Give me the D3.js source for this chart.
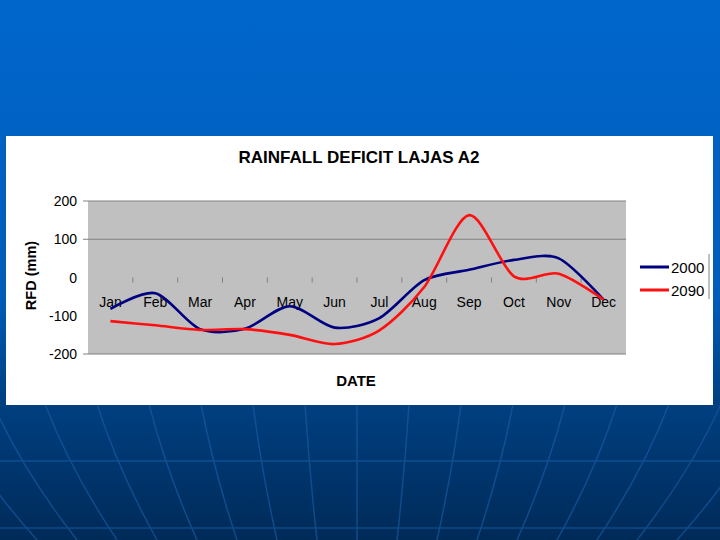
<!DOCTYPE html>
<meta charset="utf-8">
<head>
  <title>Rainfall Deficit Lajas A2</title>
</head>
<style>
    body { margin: 0; background: #0060c0; }
    svg text { font-family: Arial, "Liberation Sans", sans-serif; }
    .grid line { stroke: #808080; stroke-width: 1px; }
    .series { fill: none; stroke-width: 2.6px; stroke-linejoin: round; }
</style>
<body>
<svg id="chart" width="720" height="540"></svg>
<script src="https://cdn.jsdelivr.net/npm/d3@7"></script>
<script>
    // data
    var months = ["Jan","Feb","Mar","Apr","May","Jun","Jul","Aug","Sep","Oct","Nov","Dec"];
    var rfd2000 = [-82, -41, -135, -134, -75, -131, -106, -7, 20, 46, 50, -58];
    var rfd2090 = [-114, -125, -137, -135, -150, -174, -138, -25, 163, 3, 10, -58];
    var yTicks = [200, 100, 0, -100, -200];
    var seriesNames = ["2000", "2090"];
    var seriesColors = ["#000080", "#ff1010"];

    var svg = d3.select("#chart");
    var defs = svg.append("defs");

    // slide background
    var bg = defs.append("linearGradient").attr("id", "bg")
        .attr("x1", 0).attr("x2", 0).attr("y1", 0).attr("y2", 1);
    bg.append("stop").attr("offset", "0%").attr("stop-color", "#0066cc");
    bg.append("stop").attr("offset", "55%").attr("stop-color", "#005cb8");
    bg.append("stop").attr("offset", "75%").attr("stop-color", "#003f80");
    bg.append("stop").attr("offset", "100%").attr("stop-color", "#002a58");
    svg.append("rect").attr("width", 720).attr("height", 540).attr("fill", "url(#bg)");

    // perspective grid on the slide
    var deco = svg.append("g").attr("stroke", "#1a5fa8").attr("stroke-width", 1.5).attr("fill", "none").attr("opacity", 0.6);
    for (var k = -8; k <= 8; k++) {
        var xt = 357 + k * 52, xb = 357 + k * 40;
        deco.append("path").attr("d", "M" + xt + ",404 Q" + (xt + (xb - xt) * 0.35) + ",470 " + xb + ",540");
    }
    [461, 528].forEach(function(yy) {
        deco.append("line").attr("x1", 0).attr("x2", 720).attr("y1", yy).attr("y2", yy);
    });

    // white chart panel
    svg.append("rect").attr("x", 6).attr("y", 136).attr("width", 707).attr("height", 269).attr("fill", "#ffffff");

    var plotLeft = 88, plotRight = 626, plotTop = 201, plotBottom = 354;

    var x = d3.scaleBand().domain(months).range([plotLeft, plotRight]);
    var y = d3.scaleLinear().domain([-200, 200]).range([plotBottom, plotTop]);

    svg.append("rect").attr("x", plotLeft).attr("y", plotTop)
        .attr("width", plotRight - plotLeft).attr("height", plotBottom - plotTop).attr("fill", "#c0c0c0");

    svg.append("g").attr("class", "grid")
        .selectAll("line").data([200, 100, -200]).join("line")
        .attr("x1", plotLeft - 5).attr("x2", plotRight).attr("y1", d => y(d)).attr("y2", d => y(d));

    // y axis labels
    svg.append("g").selectAll("text").data(yTicks).join("text")
        .attr("x", 77).attr("y", d => y(d) + 5)
        .attr("text-anchor", "end").attr("font-size", 14).attr("fill", "#000")
        .text(d => d);

    // tick marks on the zero line between months
    svg.append("g").selectAll("line").data(months.slice(1)).join("line")
        .attr("x1", d => x(d)).attr("x2", d => x(d))
        .attr("y1", y(0)).attr("y2", y(0) + 5)
        .attr("stroke", "#808080").attr("stroke-width", 1);

    // month labels
    svg.append("g").selectAll("text").data(months).join("text")
        .attr("x", d => x(d) + x.bandwidth() / 2).attr("y", y(0) + 29)
        .attr("text-anchor", "middle").attr("font-size", 14).attr("fill", "#000")
        .text(d => d);

    var line = d3.line()
        .x((d, i) => x(months[i]) + x.bandwidth() / 2)
        .y(d => y(d))
        .curve(d3.curveCardinal.tension(0.15));

    svg.append("path").attr("class", "series").attr("stroke", seriesColors[0]).attr("d", line(rfd2000));
    svg.append("path").attr("class", "series").attr("stroke", seriesColors[1]).attr("d", line(rfd2090));

    // titles
    svg.append("text").attr("x", 359).attr("y", 163).attr("text-anchor", "middle")
        .attr("font-size", 17).attr("font-weight", "bold").text("RAINFALL DEFICIT LAJAS A2");
    svg.append("text").attr("x", 356).attr("y", 386).attr("text-anchor", "middle")
        .attr("font-size", 15).attr("font-weight", "bold").text("DATE");
    svg.append("text").attr("transform", "translate(36," + (y(0) - 2) + ") rotate(-90)")
        .attr("text-anchor", "middle").attr("font-size", 14.5).attr("font-weight", "bold").text("RFD (mm)");

    // legend
    var legend = svg.append("g").selectAll("g").data(seriesNames).join("g")
        .attr("transform", (d, i) => "translate(640," + (267 + i * 23) + ")");
    legend.append("line").attr("x1", 0).attr("x2", 29).attr("y1", 0).attr("y2", 0)
        .attr("stroke", (d, i) => seriesColors[i]).attr("stroke-width", 3);
    legend.append("text").attr("x", 31).attr("y", 5.5).attr("font-size", 15).text(d => d);
    svg.append("line").attr("x1", 709).attr("x2", 709).attr("y1", 254).attr("y2", 299)
        .attr("stroke", "#808080").attr("stroke-width", 1);
</script>
</body>
